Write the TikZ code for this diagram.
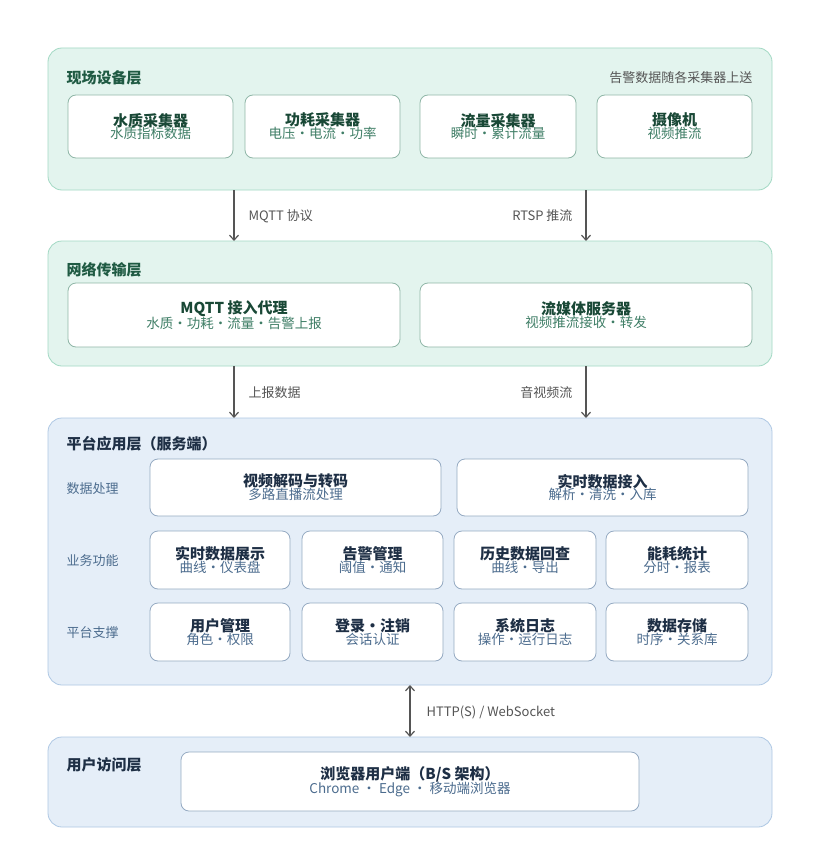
\documentclass[tikz,border=0pt]{standalone}
\usepackage{fontspec}
\setmainfont{Noto Sans CJK SC}
\usetikzlibrary{arrows.meta}
\definecolor{gfill}{HTML}{E3F4EE}\definecolor{gline}{HTML}{A3D9C4}
\definecolor{gtitle}{HTML}{1F5A43}\definecolor{gsub}{HTML}{3F7E66}
\definecolor{bfill}{HTML}{E5EEF8}\definecolor{bline}{HTML}{AFC8E4}
\definecolor{btitle}{HTML}{1E2F45}\definecolor{bsub}{HTML}{4C6C8E}
\definecolor{gray1}{HTML}{555555}
\tikzset{
 layer/.style={rounded corners=14pt,line width=0.8pt},
 glayer/.style={layer,fill=gfill,draw=gline},
 blayer/.style={layer,fill=bfill,draw=bline},
 gbox/.style={rounded corners=8pt,fill=white,draw=gline!80!black!90,line width=0.8pt},
 bbox/.style={rounded corners=8pt,fill=white,draw=bline!85!black,line width=0.8pt},
 lt/.style={anchor=west,font=\bfseries\fontsize{15}{18}\selectfont},
 rl/.style={anchor=west,text=bsub,font=\fontsize{13}{16}\selectfont},
 al/.style={text=gray1,font=\fontsize{13}{16}\selectfont},
 arr/.style={draw=gray1,line width=1.2pt,-{Straight Barb[length=5pt,width=9pt]}},
}
\newcommand{\gb}[6]{\draw[gbox] (#1,#2) rectangle (#3,#4);
 \node[align=center] (#5) at ({(#1+#3)/2},{(#2+#4)/2}) {#6};}
\newcommand{\gt}[2]{{\color{gtitle!80!black}\bfseries\fontsize{15}{19}\selectfont #1}\\[-1pt]{\color{gsub}\fontsize{13.5}{17}\selectfont #2}}
\newcommand{\bt}[2]{{\color{btitle}\bfseries\fontsize{15}{19}\selectfont #1}\\[-1pt]{\color{bsub}\fontsize{13.5}{17}\selectfont #2}}
\begin{document}
\begin{tikzpicture}[x=1pt,y=-1pt]
\useasboundingbox[fill=white] (0,0) rectangle (821,853);
% layer 1
\draw[glayer] (48,48) rectangle (772,190);
\node[lt,text=gtitle] (t1) at (63,78) {现场设备层};
\node[anchor=east,text=gray1,font=\fontsize{13}{16}\selectfont] (n1) at (756,78) {告警数据随各采集器上送};
\gb{68}{95}{233}{158}{a1}{\gt{水质采集器}{水质指标数据}}
\gb{245}{95}{400}{158}{a2}{\gt{功耗采集器}{电压・电流・功率}}
\gb{420}{95}{576}{158}{a3}{\gt{流量采集器}{瞬时・累计流量}}
\gb{597}{95}{752}{158}{a4}{\gt{摄像机}{视频推流}}
% layer 2
\draw[glayer] (48,241) rectangle (772,366);
\node[lt,text=gtitle] (t2) at (63,270) {网络传输层};
\gb{68}{283}{400}{347}{b1}{\gt{MQTT 接入代理}{水质・功耗・流量・告警上报}}
\gb{420}{283}{752}{347}{b2}{\gt{流媒体服务器}{视频推流接收・转发}}
% arrows 1->2
\coordinate (p1) at (234,190); \coordinate (q1) at (234,241);
\coordinate (p2) at (586,190); \coordinate (q2) at (586,241);
\draw[arr] (p1) -- (q1); \draw[arr] (p2) -- (q2);
\node[al,anchor=west] (l1) at (245,216) {MQTT 协议};
\node[al,anchor=east] (l2) at (576,216) {RTSP 推流};
% layer 3
\draw[blayer] (48,418) rectangle (772,685);
\node[lt,text=btitle] (t3) at (63,444) {平台应用层（服务端）};
\node[rl] (r1) at (63,489) {数据处理};
\node[rl] (r2) at (63,561) {业务功能};
\node[rl] (r3) at (63,633) {平台支撑};
\newcommand{\bb}[6]{\draw[bbox] (#1,#2) rectangle (#3,#4);
 \node[align=center] (#5) at ({(#1+#3)/2},{(#2+#4)/2}) {#6};}
\bb{150}{459}{441}{516}{c1}{\bt{视频解码与转码}{多路直播流处理}}
\bb{457}{459}{748}{516}{c2}{\bt{实时数据接入}{解析・清洗・入库}}
\bb{150}{531}{290}{589}{d1}{\bt{实时数据展示}{曲线・仪表盘}}
\bb{302}{531}{443}{589}{d2}{\bt{告警管理}{阈值・通知}}
\bb{454}{531}{596}{589}{d3}{\bt{历史数据回查}{曲线・导出}}
\bb{606}{531}{748}{589}{d4}{\bt{能耗统计}{分时・报表}}
\bb{150}{603}{290}{661}{e1}{\bt{用户管理}{角色・权限}}
\bb{302}{603}{443}{661}{e2}{\bt{登录・注销}{会话认证}}
\bb{454}{603}{596}{661}{e3}{\bt{系统日志}{操作・运行日志}}
\bb{606}{603}{748}{661}{e4}{\bt{数据存储}{时序・关系库}}
% arrows 2->3
\coordinate (p3) at (234,366); \coordinate (q3) at (234,418);
\coordinate (p4) at (586,366); \coordinate (q4) at (586,418);
\draw[arr] (p3) -- (q3); \draw[arr] (p4) -- (q4);
\node[al,anchor=west] (l3) at (245,393) {上报数据};
\node[al,anchor=east] (l4) at (576,393) {音视频流};
% layer 4
\draw[blayer] (48,737) rectangle (772,827);
\node[lt,text=btitle] (t4) at (63,765) {用户访问层};
\bb{181}{752}{639}{811}{f1}{\bt{浏览器用户端（B/S 架构）}{Chrome ・ Edge ・ 移动端浏览器}}
\coordinate (p5) at (410,685); \coordinate (q5) at (410,737);
\draw[arr,{Straight Barb[length=5pt,width=9pt]}-{Straight Barb[length=5pt,width=9pt]}] (p5) -- (q5);
\node[al,anchor=west] (l5) at (423,712) {HTTP(S) / WebSocket};
\end{tikzpicture}
\end{document}
